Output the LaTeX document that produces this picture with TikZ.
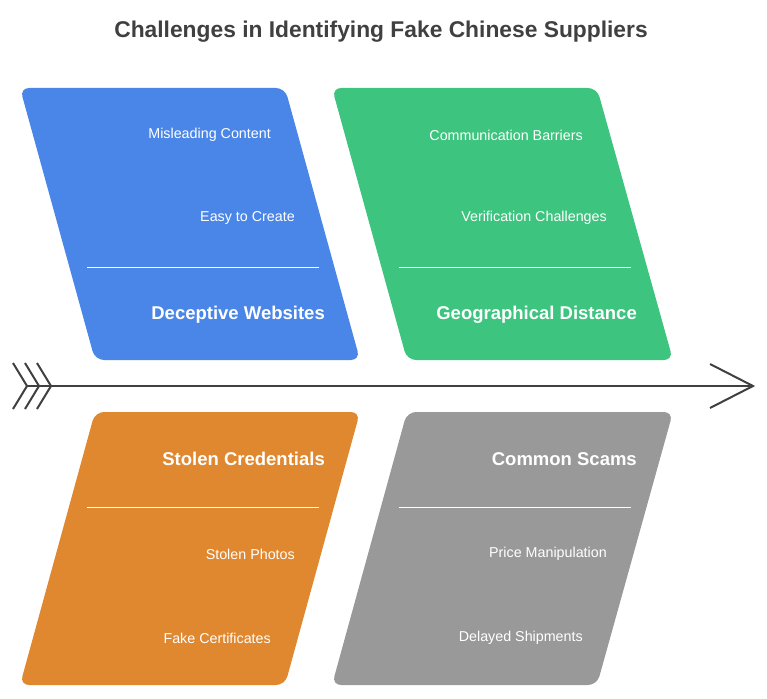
\documentclass[tikz,border=0pt]{standalone}
\usepackage{fontspec}
\setmainfont{Liberation Sans}
\begin{document}
\begin{tikzpicture}[x=1pt,y=-1pt,
 card/.style={draw=none,rounded corners=9pt},
 item/.style={anchor=east,inner sep=0pt,text=white,font=\fontsize{14.3}{16}\selectfont},
 head/.style={anchor=east,inner sep=0pt,text=white,font=\bfseries\fontsize{18.5}{20}\selectfont},
 sep/.style={white,line width=1pt},
 spine/.style={draw=black!75,line width=2pt}]
\useasboundingbox (0,0) rectangle (767,698);
\definecolor{cb}{RGB}{74,134,232}\definecolor{cg}{RGB}{61,196,126}
\definecolor{co}{RGB}{224,136,48}\definecolor{cy}{RGB}{153,153,153}
\node[inner sep=0pt] (title) at (381,32) {\bfseries\fontsize{22.8}{26}\selectfont\color{black!75}Challenges in Identifying Fake Chinese Suppliers};
\fill[cb,card] (20,88)--(285,88)--(360,360)--(95,360)--cycle;
\fill[cg,card] (332,88)--(597,88)--(673,360)--(407,360)--cycle;
\fill[co,card] (95,412)--(360,412)--(285,685)--(20,685)--cycle;
\fill[cy,card] (407,412)--(673,412)--(597,685)--(332,685)--cycle;
\node[item] (b1) at (271,135) {Misleading Content};
\node[item] (b2) at (295,218) {Easy to Create};
\draw[sep] (87,267)--(319,267);
\node[head] (bh) at (325,315) {Deceptive Websites};
\node[item] (g1) at (583,135) {Communication Barriers};
\node[item] (g2) at (607,218) {Verification Challenges};
\draw[sep] (399,267)--(631,267);
\node[head] (gh) at (637,315) {Geographical Distance};
\node[head] (oh) at (325,459) {Stolen Credentials};
\draw[sep] (87,507)--(319,507);
\node[item] (o1) at (295,554) {Stolen Photos};
\node[item] (o2) at (271,638) {Fake Certificates};
\node[head] (yh) at (637,459) {Common Scams};
\draw[sep] (399,507)--(631,507);
\node[item] (y1) at (607,554) {Price Manipulation};
\node[item] (y2) at (583,638) {Delayed Shipments};
\coordinate (t) at (27,386); \coordinate (h) at (753,386);
\draw[spine] (t)--(h);
\draw[spine] (710,364)--(h)--(710,408);
\foreach \d in {0,12,24}{\draw[spine] (13+\d,363)--(27+\d,386)--(13+\d,409);}
\end{tikzpicture}
\end{document}
